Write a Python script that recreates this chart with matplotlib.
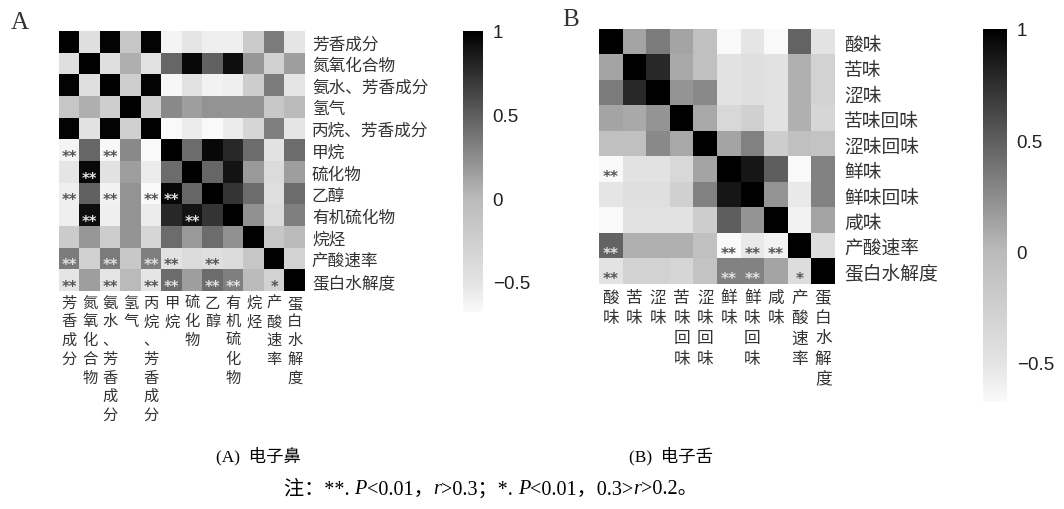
import numpy as np
import matplotlib
matplotlib.use('Agg')
import matplotlib.pyplot as plt
from matplotlib.colors import LinearSegmentedColormap
from matplotlib.offsetbox import TextArea, HPacker, AnchoredOffsetbox

CJK = ['Noto Sans CJK SC', 'DejaVu Sans']
SERIF = ['Liberation Serif', 'Noto Sans CJK SC']

# (A) electronic nose
nose_labels = ['芳香成分', '氮氧化合物', '氨水、芳香成分', '氢气', '丙烷、芳香成分', '甲烷',
               '硫化物', '乙醇', '有机硫化物', '烷烃', '产酸速率', '蛋白水解度']
# lower triangle, row by row (diagonal = 1)
nose_lower = [
    [1.0],
    [-0.46, 1.0],
    [0.98, -0.46, 1.0],
    [-0.15, 0.06, -0.25, 1.0],
    [0.98, -0.49, 0.98, -0.27, 1.0],
    [-0.64, 0.45, -0.66, 0.26, -0.70, 1.0],
    [-0.52, 0.95, -0.49, 0.15, -0.57, 0.42, 1.0],
    [-0.60, 0.48, -0.62, 0.21, -0.68, 0.95, 0.45, 1.0],
    [-0.60, 0.92, -0.60, 0.20, -0.57, 0.78, 0.89, 0.72, 1.0],
    [-0.21, 0.19, -0.24, 0.20, -0.34, 0.42, 0.17, 0.42, 0.22, 1.0],
    [0.34, -0.28, 0.34, -0.18, 0.32, -0.49, -0.40, -0.46, -0.40, -0.15, 1.0],
    [-0.52, 0.15, -0.52, 0.00, -0.52, 0.42, 0.15, 0.42, 0.32, -0.02, -0.30, 1.0],
]
nose_stars = [(5, 0, '**'), (5, 2, '**'), (6, 1, '**'), (7, 0, '**'), (7, 2, '**'),
              (7, 4, '**'), (7, 5, '**'), (8, 1, '**'), (8, 6, '**'),
              (10, 0, '**'), (10, 2, '**'), (10, 4, '**'), (10, 5, '**'), (10, 7, '**'),
              (11, 0, '**'), (11, 2, '**'), (11, 4, '**'), (11, 5, '**'), (11, 7, '**'),
              (11, 8, '**'), (11, 10, '*')]

# (B) electronic tongue
tongue_labels = ['酸味', '苦味', '涩味', '苦味回味', '涩味回味', '鲜味', '鲜味回味', '咸味',
                 '产酸速率', '蛋白水解度']
tongue_lower = [
    [1.0],
    [0.12, 1.0],
    [0.34, 0.78, 1.0],
    [0.12, 0.09, 0.20, 1.0],
    [-0.08, -0.08, 0.26, 0.10, 1.0],
    [-0.70, -0.49, -0.49, -0.37, 0.12, 1.0],
    [-0.52, -0.46, -0.46, -0.27, 0.31, 0.88, 1.0],
    [-0.67, -0.49, -0.49, -0.49, -0.24, 0.50, 0.20, 1.0],
    [0.47, 0.05, 0.05, 0.05, -0.08, -0.67, -0.55, -0.62, 1.0],
    [-0.50, -0.30, -0.30, -0.34, -0.12, 0.31, 0.30, 0.12, -0.43, 1.0],
]
tongue_stars = [(5, 0, '**'), (8, 0, '**'), (8, 5, '**'), (8, 6, '**'), (8, 7, '**'),
                (9, 0, '**'), (9, 5, '**'), (9, 6, '**'), (9, 8, '*')]

cbar_ticks = [-0.5, 0, 0.5, 1]
cbar_labels = ['\u22120.5', '0', '0.5', '1']

VMIN, VMAX = -0.68, 1.0
# grey ramp (white -> black, not linear)
cmap = LinearSegmentedColormap.from_list('greyramp', [
    (0.0, (0.98, 0.98, 0.98)),
    (0.107, (0.89, 0.89, 0.89)),
    (0.405, (0.73, 0.73, 0.73)),
    (0.702, (0.37, 0.37, 0.37)),
    (1.0, (0.0, 0.0, 0.0)),
])


def full_matrix(lower):
    n = len(lower)
    m = np.zeros((n, n))
    for i, row in enumerate(lower):
        for j, v in enumerate(row):
            m[i, j] = v
            m[j, i] = v
    return m


def draw_heatmap(fig, rect, cbar_rect, labels, lower, stars,
                 ysize, xsize, ypad, xpad, xspacing, star_size):
    data = full_matrix(lower)
    n = len(labels)
    ax = fig.add_axes(rect)
    im = ax.imshow(data, cmap=cmap, vmin=VMIN, vmax=VMAX, aspect='auto',
                   interpolation='nearest')
    ax.yaxis.tick_right()
    ax.set_yticks(range(n), labels, fontfamily=CJK, fontsize=ysize, color='#333333')
    ax.set_xticks(range(n), ['\n'.join(s) for s in labels], fontfamily=CJK,
                  fontsize=xsize, linespacing=xspacing, color='#333333')
    ax.tick_params(axis='y', length=0, pad=ypad)
    ax.tick_params(axis='x', length=0, pad=xpad)
    for s in ax.spines.values():
        s.set_visible(False)
    for r, c, mark in stars:
        col = '#e2e2e2' if data[r, c] > 0.25 else '#555555'
        ax.text(c, r + 0.3, mark, ha='center', va='center', fontsize=star_size,
                color=col, fontweight='bold')

    cax = fig.add_axes(cbar_rect)
    cb = fig.colorbar(im, cax=cax)
    cb.outline.set_visible(False)
    cb.set_ticks(cbar_ticks, labels=cbar_labels)
    cax.tick_params(length=0, pad=7, labelsize=13.5, labelcolor='#222222')
    for t in cax.get_yticklabels():
        t.set_fontfamily('Liberation Sans')
    return ax


W, H = 1064, 510
fig = plt.figure(figsize=(W / 100, H / 100), dpi=100)
fig.set_facecolor('white')


def px_rect(x0, y0, x1, y1):
    return [x0 / W, 1 - y1 / H, (x1 - x0) / W, (y1 - y0) / H]


draw_heatmap(fig, px_rect(59, 32, 305, 292), px_rect(463, 32, 483, 313),
             nose_labels, nose_lower, nose_stars,
             ysize=12, xsize=11, ypad=5, xpad=2, xspacing=1.13, star_size=10.5)
draw_heatmap(fig, px_rect(599, 30, 835, 285), px_rect(983, 30, 1007, 403),
             tongue_labels, tongue_lower, tongue_stars,
             ysize=13.5, xsize=12, ypad=6.5, xpad=3.5, xspacing=1.25, star_size=11)

fig.text(20 / W, 1 - 23 / H, 'A', family='Liberation Serif', fontsize=18,
         ha='center', va='center', color='#333333')
fig.text(571 / W, 1 - 20 / H, 'B', family='Liberation Serif', fontsize=18,
         ha='center', va='center', color='#333333')

fig.text(258 / W, 1 - 456 / H, '(A)  电子鼻', family=SERIF, fontsize=12.5,
         ha='center', va='center')
fig.text(671 / W, 1 - 456 / H, '(B)  电子舌', family=SERIF, fontsize=12.5,
         ha='center', va='center')

# note line with italic P and r
pieces = [('注：**. ', False), ('P', True), ('<0.01，', False), ('r', True),
          ('>0.3；*. ', False), ('P', True), ('<0.01，0.3>', False), ('r', True),
          ('>0.2。', False)]
areas = [TextArea(s, textprops=dict(family=SERIF, fontsize=14.5,
                                    style='italic' if it else 'normal'))
         for s, it in pieces]
box = AnchoredOffsetbox(loc='center', child=HPacker(children=areas, pad=0, sep=0),
                        bbox_to_anchor=(491 / W, 1 - 490 / H),
                        bbox_transform=fig.transFigure, frameon=False, pad=0, borderpad=0)
fig.add_artist(box)

fig.savefig('out.png', dpi=100)
